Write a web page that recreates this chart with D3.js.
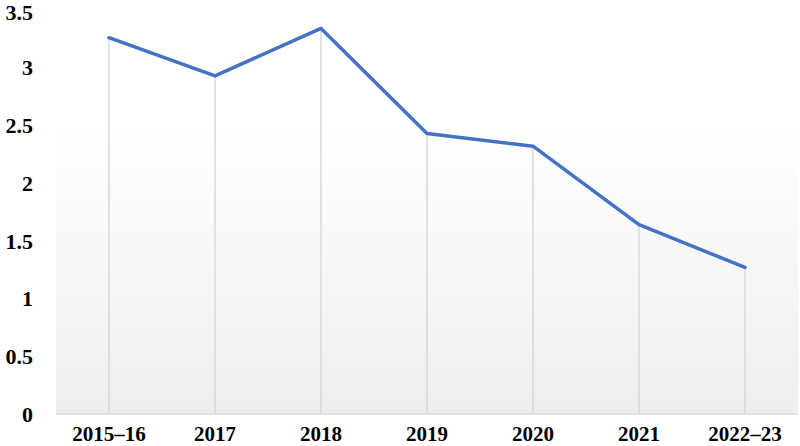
<!DOCTYPE html>
<html>
<head>
<meta charset="utf-8">
<script src="https://cdn.jsdelivr.net/npm/d3@7"></script>
<style>
  body { margin: 0; background: #fff; }
  text { font-family: "Liberation Serif", "Times New Roman", serif; font-weight: bold; fill: #000; }
</style>
</head>
<body>
<script>
// Width and height
var w = 800;
var h = 446;

// Data
var years = ["2015\u201316", "2017", "2018", "2019", "2020", "2021", "2022\u201323"];
var values = [3.26, 2.93, 3.34, 2.43, 2.32, 1.64, 1.27];
var yTicks = [0, 0.5, 1, 1.5, 2, 2.5, 3, 3.5];

var margin = {top: 10, right: 2, bottom: 32, left: 56};

var svg = d3.select("body")
            .append("svg")
            .attr("width", w)
            .attr("height", h);

var x = d3.scaleBand()
    .domain(years)
    .range([margin.left, w - margin.right]);

var y = d3.scaleLinear()
    .domain([0, 3.5])
    .range([h - margin.bottom, margin.top]);

// Plot area background gradient
var grad = svg.append("defs").append("linearGradient")
    .attr("id", "bg")
    .attr("x1", 0).attr("y1", 0)
    .attr("x2", 0).attr("y2", 1);
grad.append("stop").attr("offset", "0%").attr("stop-color", "#ffffff");
grad.append("stop").attr("offset", "30%").attr("stop-color", "#ffffff");
grad.append("stop").attr("offset", "100%").attr("stop-color", "#eeeeee");

svg.append("rect")
    .attr("x", margin.left)
    .attr("y", y(3.5))
    .attr("width", w - margin.right - margin.left)
    .attr("height", y(0) - y(3.5))
    .attr("fill", "url(#bg)");

// Drop lines
svg.selectAll("line.drop")
   .data(values)
   .enter()
   .append("line")
   .attr("class", "drop")
   .attr("x1", function(d, i) { return x(years[i]) + x.bandwidth() / 2; })
   .attr("x2", function(d, i) { return x(years[i]) + x.bandwidth() / 2; })
   .attr("y1", function(d) { return y(d); })
   .attr("y2", y(0))
   .attr("stroke", "#d9d9d9")
   .attr("stroke-width", 1.5);

// X axis line
svg.append("line")
    .attr("x1", margin.left)
    .attr("x2", w - margin.right)
    .attr("y1", y(0))
    .attr("y2", y(0))
    .attr("stroke", "#d9d9d9")
    .attr("stroke-width", 1.5);

// Y labels
svg.selectAll("text.ylab")
   .data(yTicks)
   .enter()
   .append("text")
   .attr("class", "ylab")
   .attr("x", 33)
   .attr("y", function(d) { return y(d) + (d === 3.5 ? 2 : 0); })
   .attr("dy", "0.35em")
   .attr("text-anchor", "end")
   .style("font-size", "22px")
   .text(function(d) { return d; });

// X labels
svg.selectAll("text.xlab")
   .data(years)
   .enter()
   .append("text")
   .attr("class", "xlab")
   .attr("x", function(d) { return x(d) + x.bandwidth() / 2; })
   .attr("y", 441)
   .attr("text-anchor", "middle")
   .style("font-size", "21px")
   .text(function(d) { return d; });

// Line
var line = d3.line()
    .x(function(d, i) { return x(years[i]) + x.bandwidth() / 2; })
    .y(function(d) { return y(d); });

svg.append("path")
    .datum(values)
    .attr("d", line)
    .attr("fill", "none")
    .attr("stroke", "#4472c4")
    .attr("stroke-width", 3.5)
    .attr("stroke-linejoin", "round")
    .attr("stroke-linecap", "round");
</script>
</body>
</html>
